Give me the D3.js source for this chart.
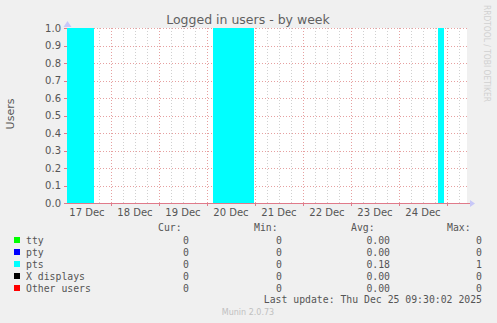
<!DOCTYPE html>
<html><head><meta charset="utf-8">
<script src="https://cdn.jsdelivr.net/npm/d3@7"></script>
<style>body{margin:0;background:#f0f0f0;}svg{display:block;}</style>
</head><body><svg id="c" width="497" height="323"></svg>
<script>
const title = "Logged in users - by week";
const yLabel = "Users";
const timeStart = "2025-12-17T02:00:00";
const timeEnd = "2025-12-25T10:00:00";
const dayTicks = ["2025-12-17","2025-12-18","2025-12-19","2025-12-20","2025-12-21","2025-12-22","2025-12-23","2025-12-24"];
const yTicks = [0,0.1,0.2,0.3,0.4,0.5,0.6,0.7,0.8,0.9,1.0];
// pts series: step points (time, value)
const ptsTimes = ["2025-12-17T02:00:00","2025-12-17T15:30:00","2025-12-20T03:00:00","2025-12-20T23:30:00","2025-12-24T19:30:00","2025-12-24T22:30:00","2025-12-25T10:00:00"];
const ptsValues = [1,0,1,0,1,0,0];
const legendNames = ["tty","pty","pts","X displays","Other users"];
const legendColors = ["#00ff00","#0000ff","#00ffff","#000000","#ff0000"];
const curVals = ["0","0","0","0","0"];
const minVals = ["0","0","0","0","0"];
const avgVals = ["0.00","0.00","0.18","0.00","0.00"];
const maxVals = ["0","0","1","0","0"];
const lastUpdate = "Last update: Thu Dec 25 09:30:02 2025";
const footer = "Munin 2.0.73";
const watermark = "RRDTOOL / TOBI OETIKER";

const svg = d3.select("#c");
const L=67,R=467,T=28,B=203;
const parse = d3.isoParse;
const x = d3.scaleTime().domain([parse(timeStart),parse(timeEnd)]).range([L,R]);
const y = d3.scaleLinear().domain([0,1]).range([B,T]);

svg.append("rect").attr("x",L).attr("y",T).attr("width",R-L).attr("height",B-T).attr("fill","#ffffff");

// minor vertical grid every 6h
const minor = d3.timeHour.every(6).range(parse(timeStart), parse(timeEnd));
svg.append("g").selectAll("line").data(minor.filter(d=>d.getHours()!==0)).join("line")
  .attr("x1",d=>Math.round(x(d))+0.5).attr("x2",d=>Math.round(x(d))+0.5).attr("y1",T).attr("y2",B)
  .attr("stroke","#d0d0d0").attr("stroke-dasharray","1,2");
// major vertical at midnight
const major = d3.timeDay.range(parse(timeStart), parse(timeEnd));
svg.append("g").selectAll("line").data(major).join("line")
  .attr("x1",d=>Math.round(x(d))+0.5).attr("x2",d=>Math.round(x(d))+0.5).attr("y1",T).attr("y2",B)
  .attr("stroke","#e6a0a0").attr("stroke-dasharray","1,2");
// horizontal grid
svg.append("g").selectAll("line").data(yTicks.slice(1)).join("line")
  .attr("x1",L).attr("x2",R).attr("y1",d=>Math.round(y(d))+0.5).attr("y2",d=>Math.round(y(d))+0.5)
  .attr("stroke","#e6a0a0").attr("stroke-dasharray","1,2");

// pts area
const pts = ptsTimes.map((t,i)=>({t:parse(t),v:ptsValues[i]}));
svg.append("path").datum(pts)
  .attr("d", d3.area().x(d=>x(d.t)).y0(y(0)).y1(d=>y(d.v)).curve(d3.curveStepAfter))
  .attr("fill","#00ffff");

// axes lines
svg.append("line").attr("x1",L-3).attr("x2",R+3).attr("y1",B+0.5).attr("y2",B+0.5).attr("stroke","#e07a8a");
svg.append("path").attr("d",`M${R+3},${B-3}L${R+8},${B+0.5}L${R+3},${B+4}Z`).attr("fill","#c8c8f8");
svg.append("path").attr("d",`M${L-3.5},${T-1}L${L+0.5},${T-7}L${L+4.5},${T-1}Z`).attr("fill","#c8c8f8");
// y tick marks
svg.append("g").selectAll("line").data(yTicks).join("line")
  .attr("x1",L-3).attr("x2",L).attr("y1",d=>Math.round(y(d))+0.5).attr("y2",d=>Math.round(y(d))+0.5)
  .attr("stroke","#e07a8a");
// x tick marks
svg.append("g").selectAll("line").data(major).join("line")
  .attr("x1",d=>Math.round(x(d))+0.5).attr("x2",d=>Math.round(x(d))+0.5).attr("y1",B).attr("y2",B+3)
  .attr("stroke","#e07a8a");

const txt = "#555555";
svg.append("g").selectAll("text").data(yTicks).join("text")
  .attr("x",L-6).attr("y",d=>y(d)).attr("dy","0.35em").attr("text-anchor","end")
  .attr("font-family","DejaVu Sans").attr("font-size",10).attr("fill",txt)
  .text(d=>d.toFixed(1));
svg.append("g").selectAll("text").data(dayTicks).join("text")
  .attr("x",d=>x(d3.timeHour.offset(parse(d+"T00:00:00"),12))).attr("y",B+13).attr("text-anchor","middle")
  .attr("font-family","DejaVu Sans").attr("font-size",10).attr("fill",txt)
  .text(d=>d3.timeFormat("%d %b")(parse(d+"T00:00:00")));

svg.append("text").attr("x",248).attr("y",24).attr("text-anchor","middle")
  .attr("font-family","DejaVu Sans").attr("font-size",12.5).attr("fill","#606060").text(title);
svg.append("text").attr("transform","translate(14,114) rotate(-90)").attr("text-anchor","middle")
  .attr("font-family","DejaVu Sans").attr("font-size",11).attr("fill",txt).text(yLabel);
svg.append("text").attr("transform","translate(484,5) rotate(90)").attr("text-anchor","start")
  .attr("font-family","DejaVu Sans").attr("font-size",8).attr("textLength",97).attr("lengthAdjust","spacingAndGlyphs")
  .attr("fill","#d0d0d0").text(watermark);

// legend
const mono = "DejaVu Sans Mono";
const lg = svg.append("g").attr("font-family",mono).attr("font-size",9.8).attr("fill",txt);
const hy = 231;
[["Cur:",158],["Min:",254],["Avg:",351],["Max:",447]].forEach(([t,xx])=>lg.append("text").attr("x",xx).attr("y",hy).text(t));
legendNames.forEach((n,i)=>{
  const yy = 244 + i*12;
  lg.append("rect").attr("x",14).attr("y",yy-7).attr("width",6).attr("height",6).attr("fill",legendColors[i]);
  lg.append("text").attr("x",26).attr("y",yy).text(n);
  lg.append("text").attr("x",189).attr("y",yy).attr("text-anchor","end").text(curVals[i]);
  lg.append("text").attr("x",282).attr("y",yy).attr("text-anchor","end").text(minVals[i]);
  lg.append("text").attr("x",390).attr("y",yy).attr("text-anchor","end").text(avgVals[i]);
  lg.append("text").attr("x",482).attr("y",yy).attr("text-anchor","end").text(maxVals[i]);
});
lg.append("text").attr("x",482).attr("y",303).attr("text-anchor","end").text(lastUpdate);
svg.append("text").attr("x",248).attr("y",315).attr("text-anchor","middle")
  .attr("font-family","DejaVu Sans").attr("font-size",8).attr("fill","#c0c0c0").text(footer);
</script></body></html>
